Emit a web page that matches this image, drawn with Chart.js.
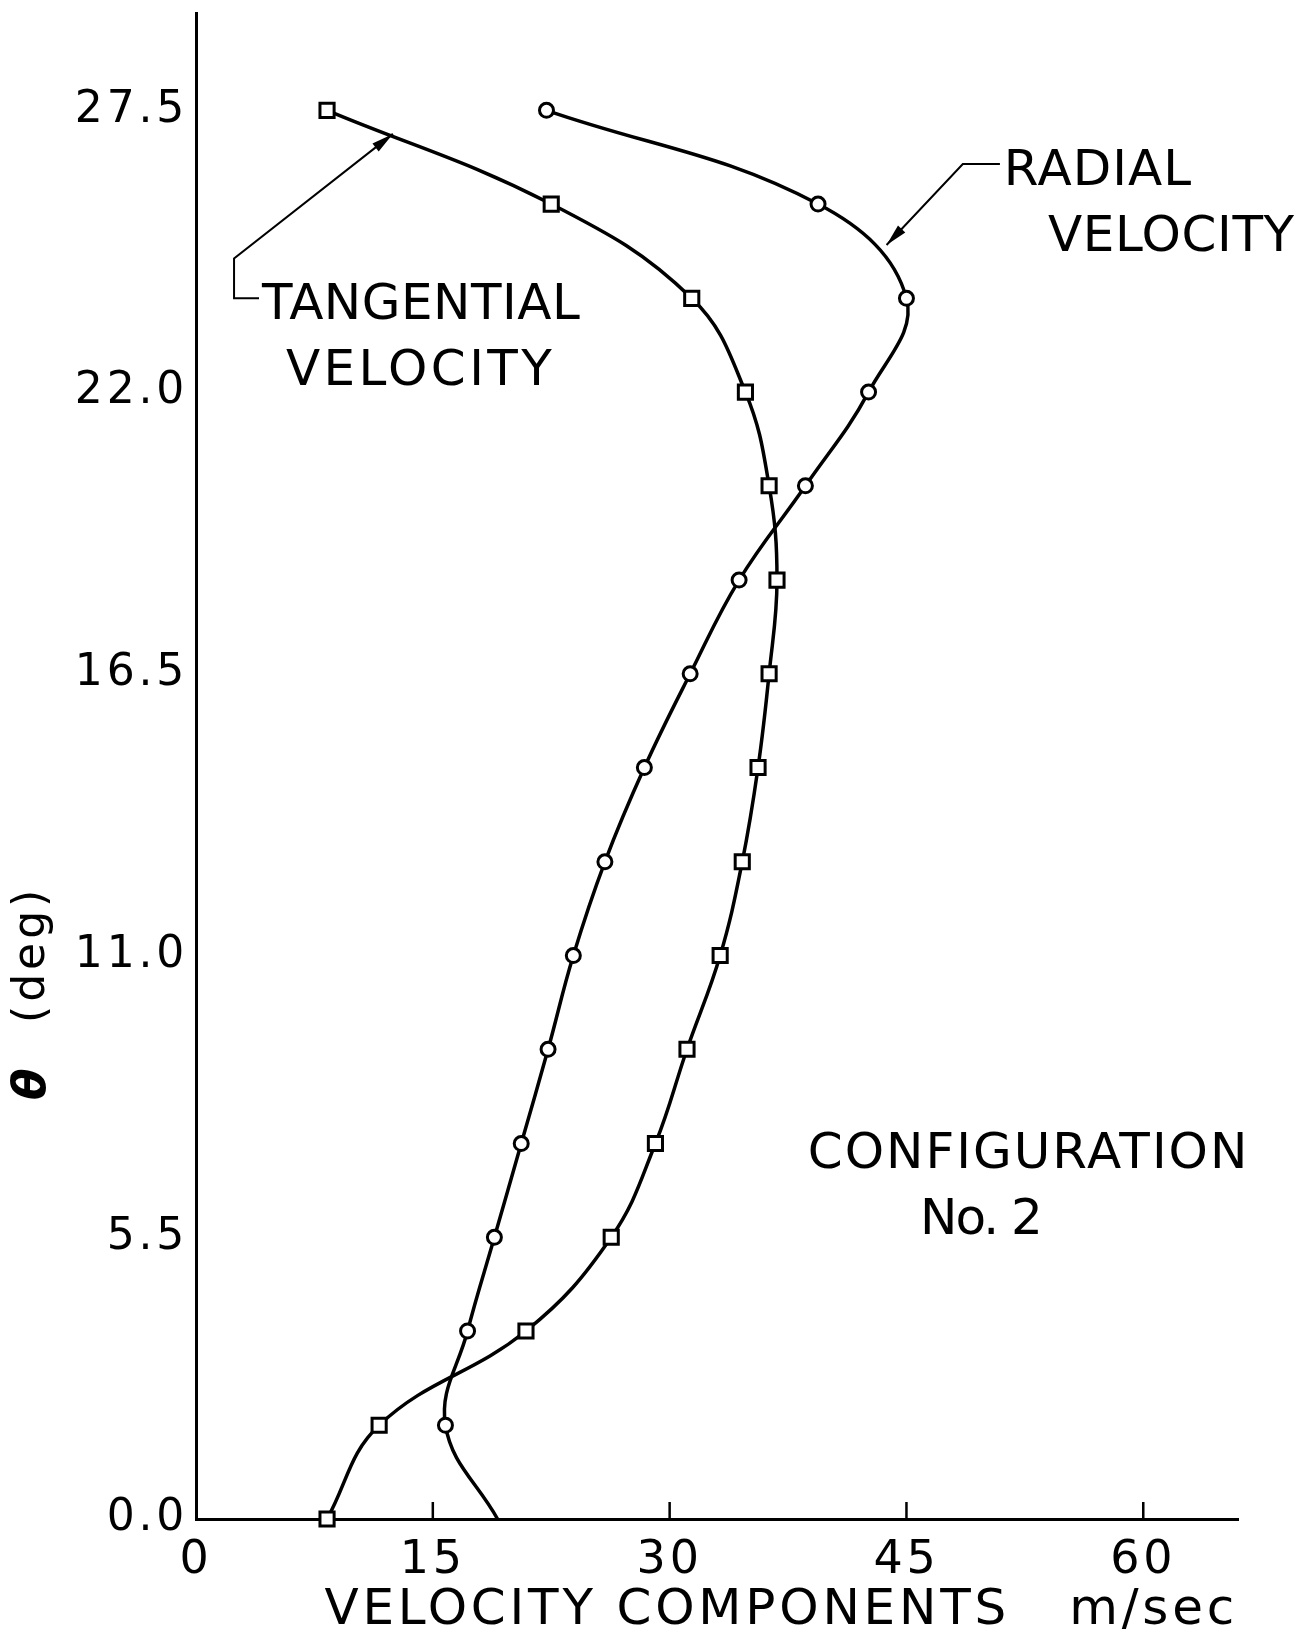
<!DOCTYPE html>
<html>
<head>
<meta charset="utf-8">
<script src="https://cdn.jsdelivr.net/npm/chart.js@4.4.1/dist/chart.umd.min.js"></script>
<style>
  html, body { margin: 0; padding: 0; background: #fff; }
  #wrap { width: 1313px; height: 1636px; position: relative; }
</style>
</head>
<body>
<div id="wrap"><canvas id="chart-velocity"></canvas></div>
<script>
// measuring stations, theta in deg
const theta = [0.0, 1.83, 3.67, 5.5, 7.33, 9.17, 11.0, 12.83, 14.67, 16.5, 18.33, 20.17, 22.0, 23.83, 25.67, 27.5];
// velocity components, m/sec
const tangential = [8.3, 11.6, 20.9, 26.3, 29.1, 31.1, 33.2, 34.6, 35.6, 36.3, 36.8, 36.3, 34.8, 31.4, 22.5, 8.3];
const radial = [19.1, 15.8, 17.2, 18.9, 20.6, 22.3, 23.9, 25.9, 28.4, 31.3, 34.4, 38.6, 42.6, 45.0, 39.4, 22.2];
const xTicks = [0, 15, 30, 45, 60];
const yTicks = [0, 5.5, 11.0, 16.5, 22.0, 27.5];

const FONT = 'DejaVu Sans';

// text notes and leader lines, placed in data units
const notes = [
    { text: 'TANGENTIAL', x: 4.18, y: 23.42, ls: 0.5 },
    { text: 'VELOCITY', x: 5.70, y: 22.14, ls: 3.4 },
    { text: 'RADIAL', x: 51.17, y: 26.05, ls: 1 },
    { text: 'VELOCITY', x: 53.96, y: 24.75, ls: 0.6 },
    { text: 'CONFIGURATION', x: 38.75, y: 6.85, ls: 2 },
    { text: 'No. 2', x: 45.86, y: 5.57, ls: -2 }
];
const leaders = [
    [[3.99, 23.83], [2.41, 23.83], [2.41, 24.61], [12.47, 27.04]],
    [[50.92, 26.45], [48.57, 26.45], [43.74, 24.87]]
];

const extras = {
    id: 'extras',
    beforeDraw(chart) {
        chart.ctx.letterSpacing = '3.8px';
    },
    afterDraw(chart) {
        const ctx = chart.ctx;
        const x = chart.scales.x, y = chart.scales.y;
        const px = v => x.getPixelForValue(v);
        const py = v => y.getPixelForValue(v);
        ctx.save();
        ctx.letterSpacing = '0px';
        ctx.strokeStyle = '#000';
        ctx.fillStyle = '#000';

        // small inward tick marks on the velocity axis
        ctx.lineWidth = 2.5;
        xTicks.slice(1).forEach(v => {
            ctx.beginPath();
            ctx.moveTo(px(v), py(0));
            ctx.lineTo(px(v), py(0) - 17);
            ctx.stroke();
        });

        // leader lines with arrow heads
        ctx.lineWidth = 2;
        leaders.forEach(pts => {
            ctx.beginPath();
            pts.forEach((p, i) => {
                if (i === 0) ctx.moveTo(px(p[0]), py(p[1]));
                else ctx.lineTo(px(p[0]), py(p[1]));
            });
            ctx.stroke();
            const a = pts[pts.length - 2], b = pts[pts.length - 1];
            const bx = px(b[0]), by = py(b[1]);
            const ang = Math.atan2(by - py(a[1]), bx - px(a[0]));
            ctx.save();
            ctx.translate(bx, by);
            ctx.rotate(ang);
            ctx.beginPath();
            ctx.moveTo(0, 0);
            ctx.lineTo(-22, -5);
            ctx.lineTo(-22, 5);
            ctx.closePath();
            ctx.fill();
            ctx.restore();
        });

        // notes
        ctx.font = '50px ' + FONT;
        ctx.textAlign = 'left';
        ctx.textBaseline = 'alphabetic';
        notes.forEach(n => {
            ctx.letterSpacing = n.ls + 'px';
            ctx.fillText(n.text, px(n.x), py(n.y));
        });

        // vertical axis title
        ctx.translate(33, 1100);
        ctx.rotate(-Math.PI / 2);
        ctx.textBaseline = 'middle';
        ctx.letterSpacing = '0px';
        ctx.font = 'italic bold 46px ' + FONT;
        ctx.fillText('\u03b8', 0, 0);
        ctx.font = '44px ' + FONT;
        ctx.letterSpacing = '4px';
        ctx.fillText('(deg)', 77, 0);
        ctx.restore();
    }
};

function curve(label, values, style) {
    return Object.assign({
        label: label,
        data: theta.map((t, i) => ({ x: values[i], y: t })),
        showLine: true,
        borderColor: '#000',
        borderWidth: 3.5,
        tension: 0.4,
        pointBackgroundColor: '#fff',
        pointBorderColor: '#000',
        pointBorderWidth: 3,
        clip: false
    }, style);
}

const ctx = document.getElementById('chart-velocity').getContext('2d');
new Chart(ctx, {
    type: 'scatter',
    data: {
        datasets: [
            curve('Tangential velocity', tangential, { pointStyle: 'rect', pointRadius: 10 }),
            curve('Radial velocity', radial, {
                pointStyle: 'circle',
                pointRadius: c => c.dataIndex === 0 ? 0 : 7
            })
        ]
    },
    options: {
        responsive: true,
        maintainAspectRatio: false,
        animation: false,
        events: [],
        layout: { padding: { left: 0, right: 75, top: 10, bottom: 0 } },
        plugins: { legend: { display: false }, tooltip: { enabled: false } },
        scales: {
            x: {
                type: 'linear',
                min: 0,
                max: 66,
                grid: { display: false, drawTicks: false },
                border: { display: true, color: '#000', width: 3 },
                ticks: {
                    color: '#000',
                    font: { family: FONT, size: 46 },
                    padding: 14,
                    maxRotation: 0,
                    autoSkip: false,
                    callback: v => String(v)
                },
                afterBuildTicks: s => { s.ticks = xTicks.map(v => ({ value: v })); },
                afterFit: s => { s.height = 117; s.paddingLeft = 0; s.paddingRight = 0; },
                title: {
                    display: true,
                    text: 'VELOCITY COMPONENTS   m/sec',
                    align: 'end',
                    color: '#000',
                    font: { family: FONT, size: 50, lineHeight: 1 },
                    padding: { top: 0, bottom: 0 }
                }
            },
            y: {
                type: 'linear',
                min: 0,
                max: 29.4,
                grid: { display: false, drawTicks: false },
                border: { display: true, color: '#000', width: 3 },
                ticks: {
                    color: '#000',
                    font: { family: FONT, size: 44 },
                    padding: 8,
                    autoSkip: false,
                    callback: v => v.toFixed(1)
                },
                afterBuildTicks: s => { s.ticks = yTicks.map(v => ({ value: v })); },
                afterFit: s => { s.width = 196; s.paddingTop = 0; s.paddingBottom = 0; }
            }
        }
    },
    plugins: [extras]
});
</script>
</body>
</html>
